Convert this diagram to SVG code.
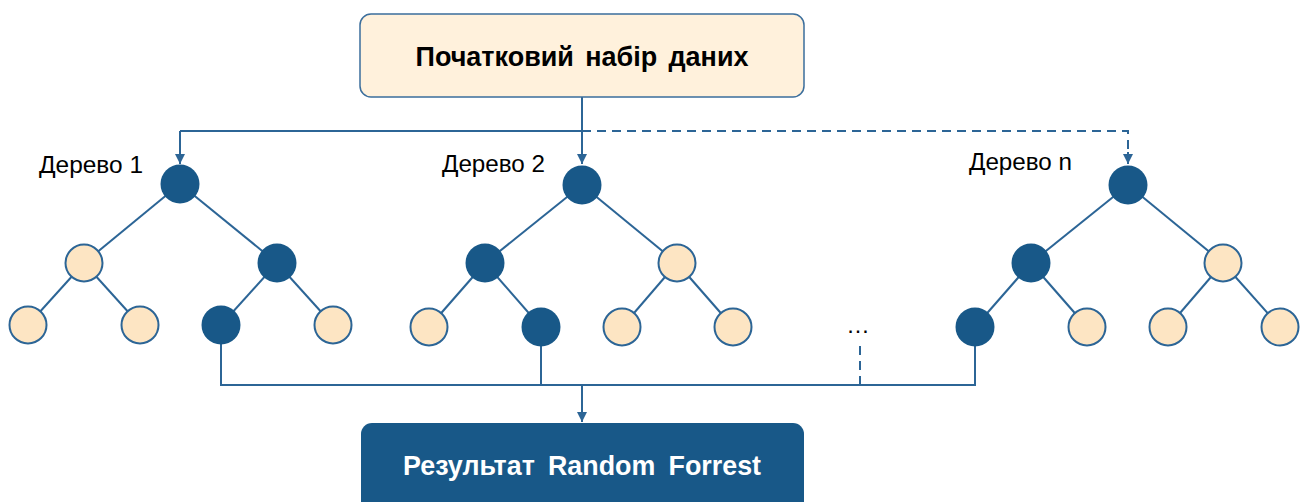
<svg xmlns="http://www.w3.org/2000/svg" width="1307" height="502" viewBox="0 0 1307 502">
  <style>
    .box-in { fill: #FFF1DC; stroke: #3B6E9C; stroke-width: 1.5; }
    .box-out { fill: #185888; }
    .title { font-family: "Liberation Sans", Arial, sans-serif; font-weight: bold; font-size: 28px; text-anchor: middle; }
    .lbl { font-family: "Liberation Sans", Arial, sans-serif; font-size: 23.5px; fill: #000; }
    .edge { stroke: #2C6596; stroke-width: 2; fill: none; }
    .dash { stroke: #2C6596; stroke-width: 2; fill: none; stroke-dasharray: 9 6; }
    .dark { fill: #185888; }
    .light { fill: #FDE5C3; stroke: #2C6596; stroke-width: 2; }
  </style>
  <defs>
    <marker id="arrow" viewBox="0 0 10 10" refX="10" refY="5" markerWidth="5" markerHeight="5" markerUnits="strokeWidth" orient="auto">
      <path d="M0,0 L10,5 L0,10 Z" fill="#2C6596"/>
    </marker>
  </defs>

  <!-- connectors -->
  <g id="connectors">
    <line class="edge" x1="582" y1="97" x2="582" y2="131"/>
    <polyline class="edge" points="180,131 582,131 582,164" marker-end="url(#arrow)"/>
    <polyline class="dash" points="582,131 1128,131 1128,152"/>
    <line class="edge" x1="1128" y1="152" x2="1128" y2="164" marker-end="url(#arrow)"/>
    <polyline class="edge" points="180,131 180,164" marker-end="url(#arrow)"/>
    <polyline class="edge" points="221,325 221,385 975,385 975,327"/>
    <line class="edge" x1="541" y1="327" x2="541" y2="385"/>
    <line class="dash" x1="860" y1="346" x2="860" y2="385" stroke-dasharray="8 5"/>
    <line class="edge" x1="582" y1="385" x2="582" y2="422" marker-end="url(#arrow)"/>
  </g>

  <!-- input dataset -->
  <g id="node-dataset">
    <rect class="box-in" x="360" y="14" width="444" height="83" rx="11"/>
    <text class="title" x="582" y="66" textLength="333" lengthAdjust="spacingAndGlyphs" word-spacing="4">Початковий набір даних</text>
  </g>

  <!-- tree 1 -->
  <g id="tree-1">
    <text class="lbl" x="39" y="173" textLength="104" lengthAdjust="spacingAndGlyphs">Дерево 1</text>
    <g class="edge">
      <line x1="180" y1="184" x2="84" y2="263"/>
      <line x1="180" y1="184" x2="277" y2="263"/>
      <line x1="84" y1="263" x2="28" y2="325"/>
      <line x1="84" y1="263" x2="140" y2="325"/>
      <line x1="277" y1="263" x2="221" y2="325"/>
      <line x1="277" y1="263" x2="333" y2="325"/>
    </g>
    <circle class="dark" cx="180" cy="184" r="19.5"/>
    <circle class="light" cx="84" cy="263" r="18.5"/>
    <circle class="dark" cx="277" cy="263" r="19.5"/>
    <circle class="light" cx="28" cy="325" r="18.5"/>
    <circle class="light" cx="140" cy="325" r="18.5"/>
    <circle class="dark" cx="221" cy="325" r="19.5"/>
    <circle class="light" cx="333" cy="325" r="18.5"/>
  </g>

  <!-- tree 2 -->
  <g id="tree-2">
    <text class="lbl" x="442" y="172" textLength="103" lengthAdjust="spacingAndGlyphs">Дерево 2</text>
    <g class="edge">
      <line x1="582" y1="185" x2="485" y2="263"/>
      <line x1="582" y1="185" x2="677" y2="263"/>
      <line x1="485" y1="263" x2="429" y2="327"/>
      <line x1="485" y1="263" x2="541" y2="327"/>
      <line x1="677" y1="263" x2="622" y2="327"/>
      <line x1="677" y1="263" x2="733" y2="327"/>
    </g>
    <circle class="dark" cx="582" cy="185" r="19.5"/>
    <circle class="dark" cx="485" cy="263" r="19.5"/>
    <circle class="light" cx="677" cy="263" r="18.5"/>
    <circle class="light" cx="429" cy="327" r="18.5"/>
    <circle class="dark" cx="541" cy="327" r="19.5"/>
    <circle class="light" cx="622" cy="327" r="18.5"/>
    <circle class="light" cx="733" cy="327" r="18.5"/>
  </g>

  <!-- ellipsis between trees -->
  <g id="ellipsis">
    <text class="lbl" x="859" y="333" text-anchor="middle" font-size="24" letter-spacing="2">…</text>
  </g>

  <!-- tree n -->
  <g id="tree-n">
    <text class="lbl" x="969" y="170" textLength="103" lengthAdjust="spacingAndGlyphs">Дерево n</text>
    <g class="edge">
      <line x1="1128" y1="185" x2="1031" y2="263"/>
      <line x1="1128" y1="185" x2="1223" y2="263"/>
      <line x1="1031" y1="263" x2="975" y2="327"/>
      <line x1="1031" y1="263" x2="1087" y2="327"/>
      <line x1="1223" y1="263" x2="1168" y2="327"/>
      <line x1="1223" y1="263" x2="1280" y2="327"/>
    </g>
    <circle class="dark" cx="1128" cy="185" r="19.5"/>
    <circle class="dark" cx="1031" cy="263" r="19.5"/>
    <circle class="light" cx="1223" cy="263" r="18.5"/>
    <circle class="dark" cx="975" cy="327" r="19.5"/>
    <circle class="light" cx="1087" cy="327" r="18.5"/>
    <circle class="light" cx="1168" cy="327" r="18.5"/>
    <circle class="light" cx="1280" cy="327" r="18.5"/>
  </g>

  <!-- result -->
  <g id="node-result">
    <rect class="box-out" x="361" y="423" width="443" height="95" rx="11"/>
    <text class="title" x="582" y="475" fill="#FFFFFF" textLength="358" lengthAdjust="spacingAndGlyphs" word-spacing="6">Результат Random Forrest</text>
  </g>
</svg>
